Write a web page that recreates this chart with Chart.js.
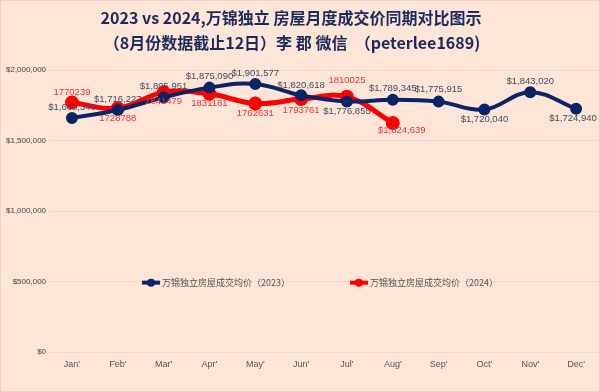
<!DOCTYPE html>
<html>
<head>
<meta charset="utf-8">
<script src="https://cdn.jsdelivr.net/npm/chart.js@4.4.1/dist/chart.umd.min.js"></script>
<style>
html, body { margin: 0; padding: 0; background: #fde5d8; }
canvas { display: block; }
</style>
</head>
<body>
<canvas id="priceChart" width="600" height="392"></canvas>
<script>
// values
var titleLines = ['2023 vs 2024,万锦独立 房屋月度成交价同期对比图示', '（8月份数据截止12日）李 郡 微信  （peterlee1689)'];
var months = ["Jan'", "Feb'", "Mar'", "Apr'", "May'", "Jun'", "Jul'", "Aug'", "Sep'", "Oct'", "Nov'", "Dec'"];
var label2023 = '万锦独立房屋成交均价（2023）';
var label2024 = '万锦独立房屋成交均价（2024）';
var prices2023 = [1660340, 1716227, 1805951, 1875090, 1901577, 1820618, 1776855, 1789345, 1775915, 1720040, 1843020, 1724940];
var prices2024 = [1770239, 1728788, 1841479, 1831181, 1762631, 1793761, 1810025, 1624639];

// where each value label sits relative to its point [dx, dy]
var labelShift2023 = [[0,-11],[0,-11],[0,-11],[0,-11],[0,-11],[0,-10],[0,10],[0,-11],[0,-12],[0,10],[0,-11],[-3,10]];
var labelShift2024 = [[0,-10],[0,10],[0,9],[0,10],[0,10],[0,11],[0,-16],[9,7]];

var navy = '#0b2468';
var red = '#ff0000';
var fontFamily = '"Liberation Sans", Arial, sans-serif';

function money(v) {
    return '$' + v.toLocaleString('en-US');
}

var backgroundPlugin = {
    id: 'peachBackground',
    beforeDraw: function(chart) {
        var ctx = chart.ctx;
        ctx.save();
        ctx.fillStyle = '#fde5d8';
        ctx.fillRect(0, 0, chart.width, chart.height);
        ctx.strokeStyle = '#efd2c3';
        ctx.lineWidth = 1;
        ctx.strokeRect(0.5, 0.5, chart.width - 1, chart.height - 1);
        ctx.restore();
    }
};

var titlePlugin = {
    id: 'twoLineTitle',
    afterDraw: function(chart) {
        var ctx = chart.ctx;
        ctx.save();
        ctx.font = 'bold 16px "Noto Sans CJK SC"';
        ctx.fillStyle = '#1d2b5c';
        ctx.textAlign = 'center';
        ctx.textBaseline = 'middle';
        ctx.fillText(titleLines[0], 291, 18);
        ctx.fillText(titleLines[1], 292, 43);
        ctx.restore();
    }
};

var valueLabelPlugin = {
    id: 'valueLabels',
    afterDatasetsDraw: function(chart) {
        var ctx = chart.ctx;
        ctx.save();
        ctx.font = '9.5px ' + fontFamily;
        ctx.textAlign = 'center';
        ctx.textBaseline = 'middle';
        chart.data.datasets.forEach(function(ds, di) {
            var meta = chart.getDatasetMeta(di);
            var shifts = di === 0 ? labelShift2023 : labelShift2024;
            ctx.fillStyle = di === 0 ? '#444a5e' : '#e03434';
            meta.data.forEach(function(pt, i) {
                var v = ds.data[i];
                var txt;
                if (di === 0 || i === ds.data.length - 1) txt = money(v);
                else txt = String(v);
                ctx.fillText(txt, pt.x + shifts[i][0], pt.y + shifts[i][1]);
            });
        });
        ctx.restore();
    }
};

var legendPlugin = {
    id: 'innerLegend',
    afterDraw: function(chart) {
        var ctx = chart.ctx;
        var area = chart.chartArea;
        var y = chart.scales.y.getPixelForValue(500000) + 1;
        var items = chart.data.datasets;
        ctx.save();
        ctx.font = '9px "Noto Sans CJK SC"';
        ctx.textBaseline = 'middle';
        var gap = 60, swatch = 18;
        var widths = items.map(function(ds) { return swatch + 2 + ctx.measureText(ds.label).width; });
        var total = widths[0] + widths[1] + gap;
        var x = (area.left + area.right) / 2 - total / 2 - 4;
        items.forEach(function(ds, i) {
            ctx.strokeStyle = ds.borderColor;
            ctx.lineWidth = 4;
            ctx.beginPath();
            ctx.moveTo(x, y);
            ctx.lineTo(x + swatch, y);
            ctx.stroke();
            ctx.fillStyle = ds.borderColor;
            ctx.beginPath();
            ctx.arc(x + swatch / 2, y, 4, 0, Math.PI * 2);
            ctx.fill();
            ctx.fillStyle = '#555555';
            ctx.fillText(ds.label, x + swatch + 2, y);
            x += widths[i] + gap;
        });
        ctx.restore();
    }
};

var ctx = document.getElementById('priceChart').getContext('2d');
var priceChart = new Chart(ctx, {
    type: 'line',
    data: {
        labels: months,
        datasets: [{
            label: label2023,
            data: prices2023,
            borderColor: navy,
            backgroundColor: navy,
            borderWidth: 4,
            pointRadius: 4,
            tension: 0.4
        }, {
            label: label2024,
            data: prices2024,
            borderColor: red,
            backgroundColor: red,
            borderWidth: 5,
            pointRadius: 4.5,
            tension: 0.4
        }]
    },
    options: {
        responsive: false,
        animation: false,
        layout: {
            autoPadding: false,
            padding: { top: 70, right: 1, bottom: 15, left: 3 }
        },
        plugins: {
            legend: { display: false },
            title: { display: false },
            tooltip: { enabled: false }
        },
        scales: {
            x: {
                offset: true,
                grid: { display: false, drawTicks: false },
                border: { display: false },
                ticks: { color: '#555', font: { size: 9, family: fontFamily }, padding: 7 }
            },
            y: {
                min: 0,
                max: 2000000,
                border: { display: false },
                grid: { color: 'rgba(120, 80, 60, 0.08)', drawTicks: false },
                ticks: {
                    stepSize: 500000,
                    color: '#444',
                    font: { size: 8, family: fontFamily },
                    padding: 3,
                    callback: function(v) { return money(v); }
                }
            }
        }
    },
    plugins: [backgroundPlugin, valueLabelPlugin, legendPlugin, titlePlugin]
});
</script>
</body>
</html>
